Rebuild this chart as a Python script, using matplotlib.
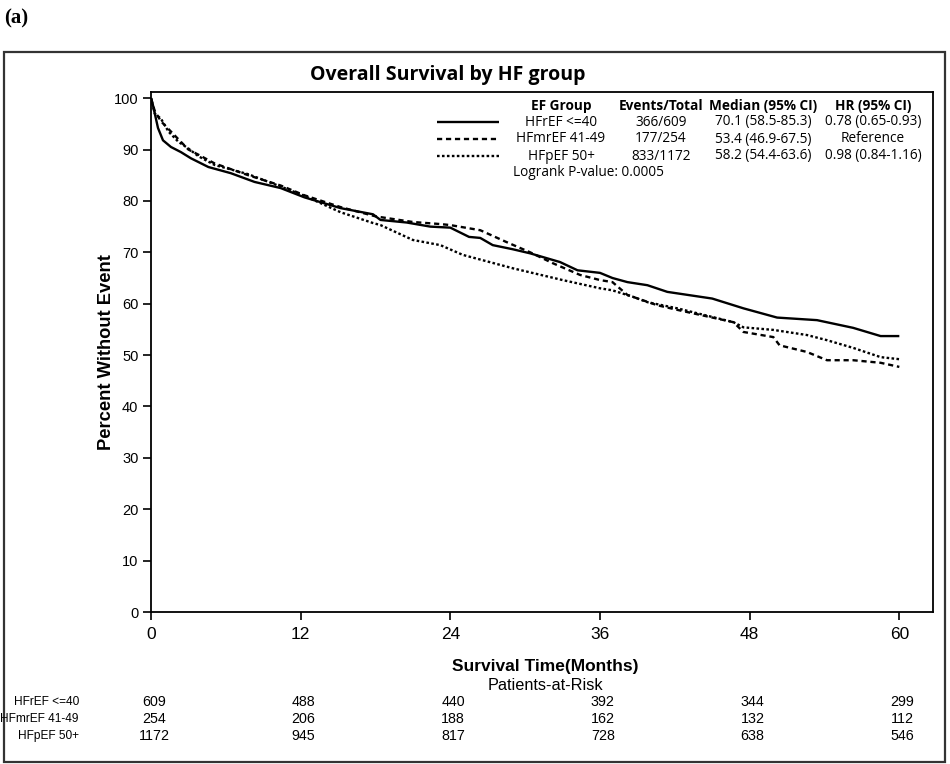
import matplotlib
matplotlib.use("Agg")
import matplotlib.pyplot as plt
from matplotlib.patches import Rectangle
from matplotlib.lines import Line2D

# Kaplan-Meier curves (months, percent without event)
t_ref = [0, 0.16, 0.56, 0.96, 1.6, 2.4, 3.2, 4.6, 6.4, 8.3, 10.4, 12.3, 15.2, 17.8,
         18.4, 20.5, 22.4, 24, 25.5, 26.4, 27.4, 29, 30.4, 32.8, 34.2, 36, 37, 38.2,
         39.8, 41.4, 45, 47.5, 50.2, 53.4, 56.3, 58.5, 60]
s_ref = [100, 98.6, 94.2, 91.8, 90.5, 89.5, 88.3, 86.6, 85.4, 83.7, 82.5, 80.7, 78.6, 77.4,
         76.3, 75.8, 75.0, 74.8, 73.0, 72.8, 71.4, 70.6, 69.8, 68.1, 66.5, 66.0, 65.0, 64.2,
         63.6, 62.3, 61.0, 59.1, 57.3, 56.8, 55.3, 53.7, 53.7]

t_mid = [0, 0.3, 0.8, 1.4, 2.2, 3, 3.8, 5.1, 7.8, 10.4, 12.3, 15.2, 18, 21, 23.2, 24,
         26.4, 28.5, 30.4, 32.2, 34.4, 36, 37, 38.2, 40.6, 42.2, 46.7, 47.5, 49.9, 50.4,
         52.6, 54.2, 56.3, 58.5, 60]
s_mid = [100, 97.5, 95.5, 94.0, 92.0, 90.0, 89.0, 87.3, 85.0, 83.0, 81.1, 78.8, 77.0, 75.9,
         75.5, 75.3, 74.3, 72.0, 70.0, 67.9, 65.6, 64.6, 64.2, 61.7, 59.7, 58.8, 56.4, 54.5,
         53.5, 51.9, 50.6, 49.0, 49.0, 48.5, 47.7]

t_pres = [0, 0.3, 0.8, 1.4, 2.2, 3, 3.8, 5.1, 7.8, 10.4, 12.3, 15.2, 17.8, 18.4, 21,
          23.2, 25, 29, 33, 36, 37, 38.7, 39.8, 42.2, 42.7, 46.7, 47.5, 49.9, 52.6, 54.2,
          56.3, 58.5, 60]
s_pres = [100, 97.0, 96.0, 93.5, 91.5, 90.2, 88.7, 87.0, 85.2, 82.8, 81.0, 77.8, 75.7, 75.3,
          72.4, 71.4, 69.5, 66.9, 64.6, 63.0, 62.6, 61.3, 60.3, 59.1, 58.8, 56.4, 55.4, 54.9,
          53.9, 52.9, 51.4, 49.6, 49.2]

groups = ["HFrEF <=40", "HFmrEF 41-49", "HFpEF 50+"]
events = ["366/609", "177/254", "833/1172"]
medians = ["70.1 (58.5-85.3)", "53.4 (46.9-67.5)", "58.2 (54.4-63.6)"]
hrs = ["0.78 (0.65-0.93)", "Reference", "0.98 (0.84-1.16)"]

risk_times = [0, 12, 24, 36, 48, 60]
risk_ref = [609, 488, 440, 392, 344, 299]
risk_mid = [254, 206, 188, 162, 132, 112]
risk_pres = [1172, 945, 817, 728, 638, 546]

plt.rcParams["font.family"] = ["Liberation Sans", "DejaVu Sans"]

fig = plt.figure(figsize=(9.5, 7.64), dpi=100)
W, H = 950, 764

def fx(px):
    return px / W

def fy(py):
    return 1 - py / H

ax = fig.add_axes([fx(151), fy(612), fx(933) - fx(151), fy(92) - fy(612)])

styles = [(0, ()), (0, (2.2, 1.6)), (0, (1.1, 1.0))]
lw = 1.7
ax.plot(t_ref, s_ref, color="black", lw=lw, linestyle=styles[0])
ax.plot(t_mid, s_mid, color="black", lw=lw, linestyle=styles[1])
ax.plot(t_pres, s_pres, color="black", lw=lw, linestyle=styles[2])

ax.set_xlim(0, 62.7)
ax.set_ylim(0, 101.2)
ax.set_xticks(risk_times)
ax.set_yticks(range(0, 101, 10))
ax.tick_params(axis="x", labelsize=12.5, length=6, width=1.2, pad=5)
ax.tick_params(axis="y", labelsize=10.5, length=6, width=1.2, pad=3)
for sp in ax.spines.values():
    sp.set_linewidth(1.3)

ax.set_ylabel("Percent Without Event", fontsize=13.2, fontweight="bold", labelpad=-1)

# title
lg_font = ["Open Sans", "Lato", "DejaVu Sans"]
fig.text(fx(448), fy(75), "Overall Survival by HF group", ha="center", va="center",
         fontsize=14, fontweight="bold", family=lg_font)

# legend table
lg_size = 9.8
col_x = [561, 661, 763, 873]
headers = ["EF Group", "Events/Total", "Median (95% CI)", "HR (95% CI)"]
row_y = [106, 122, 139, 156]
for cx, htxt in zip(col_x, headers):
    fig.text(fx(cx), fy(row_y[0]), htxt, ha="center", va="center", fontsize=lg_size,
             fontweight="bold", family=lg_font)
for i in range(3):
    y = fy(row_y[i + 1])
    fig.add_artist(Line2D([fx(437), fx(499)], [y, y], color="black", lw=lw,
                          linestyle=styles[i], transform=fig.transFigure))
    for cx, txt in zip(col_x, [groups[i], events[i], medians[i], hrs[i]]):
        fig.text(fx(cx), y, txt, ha="center", va="center", fontsize=lg_size, family=lg_font)
fig.text(fx(513), fy(172), "Logrank P-value: 0.0005", ha="left", va="center",
         fontsize=lg_size, family=lg_font)

# x label and risk table
fig.text(fx(545), fy(667), "Survival Time(Months)", ha="center", va="center",
         fontsize=12.5, fontweight="bold")
fig.text(fx(545), fy(685), "Patients-at-Risk", ha="center", va="center", fontsize=11.7)

rows = [risk_ref, risk_mid, risk_pres]
for i, (name, vals) in enumerate(zip(groups, rows)):
    y = fy(702 + 17 * i)
    fig.text(fx(79), y, name, ha="right", va="center", fontsize=8.6)
    for t, v in zip(risk_times, vals):
        xpx = 151 + t * (899 - 151) / 60
        fig.text(fx(xpx + 3), y, str(v), ha="center", va="center", fontsize=10.3)

# outer frame and panel letter
fig.add_artist(Rectangle((fx(4), fy(762)), fx(945) - fx(4), fy(52) - fy(762), fill=False,
                         edgecolor="#333333", lw=1.6, transform=fig.transFigure))
fig.text(fx(4), fy(18), "(a)", ha="left", va="center", fontsize=15, fontweight="bold",
         family=["Liberation Serif", "DejaVu Serif"])

fig.savefig("out.png", dpi=100)
